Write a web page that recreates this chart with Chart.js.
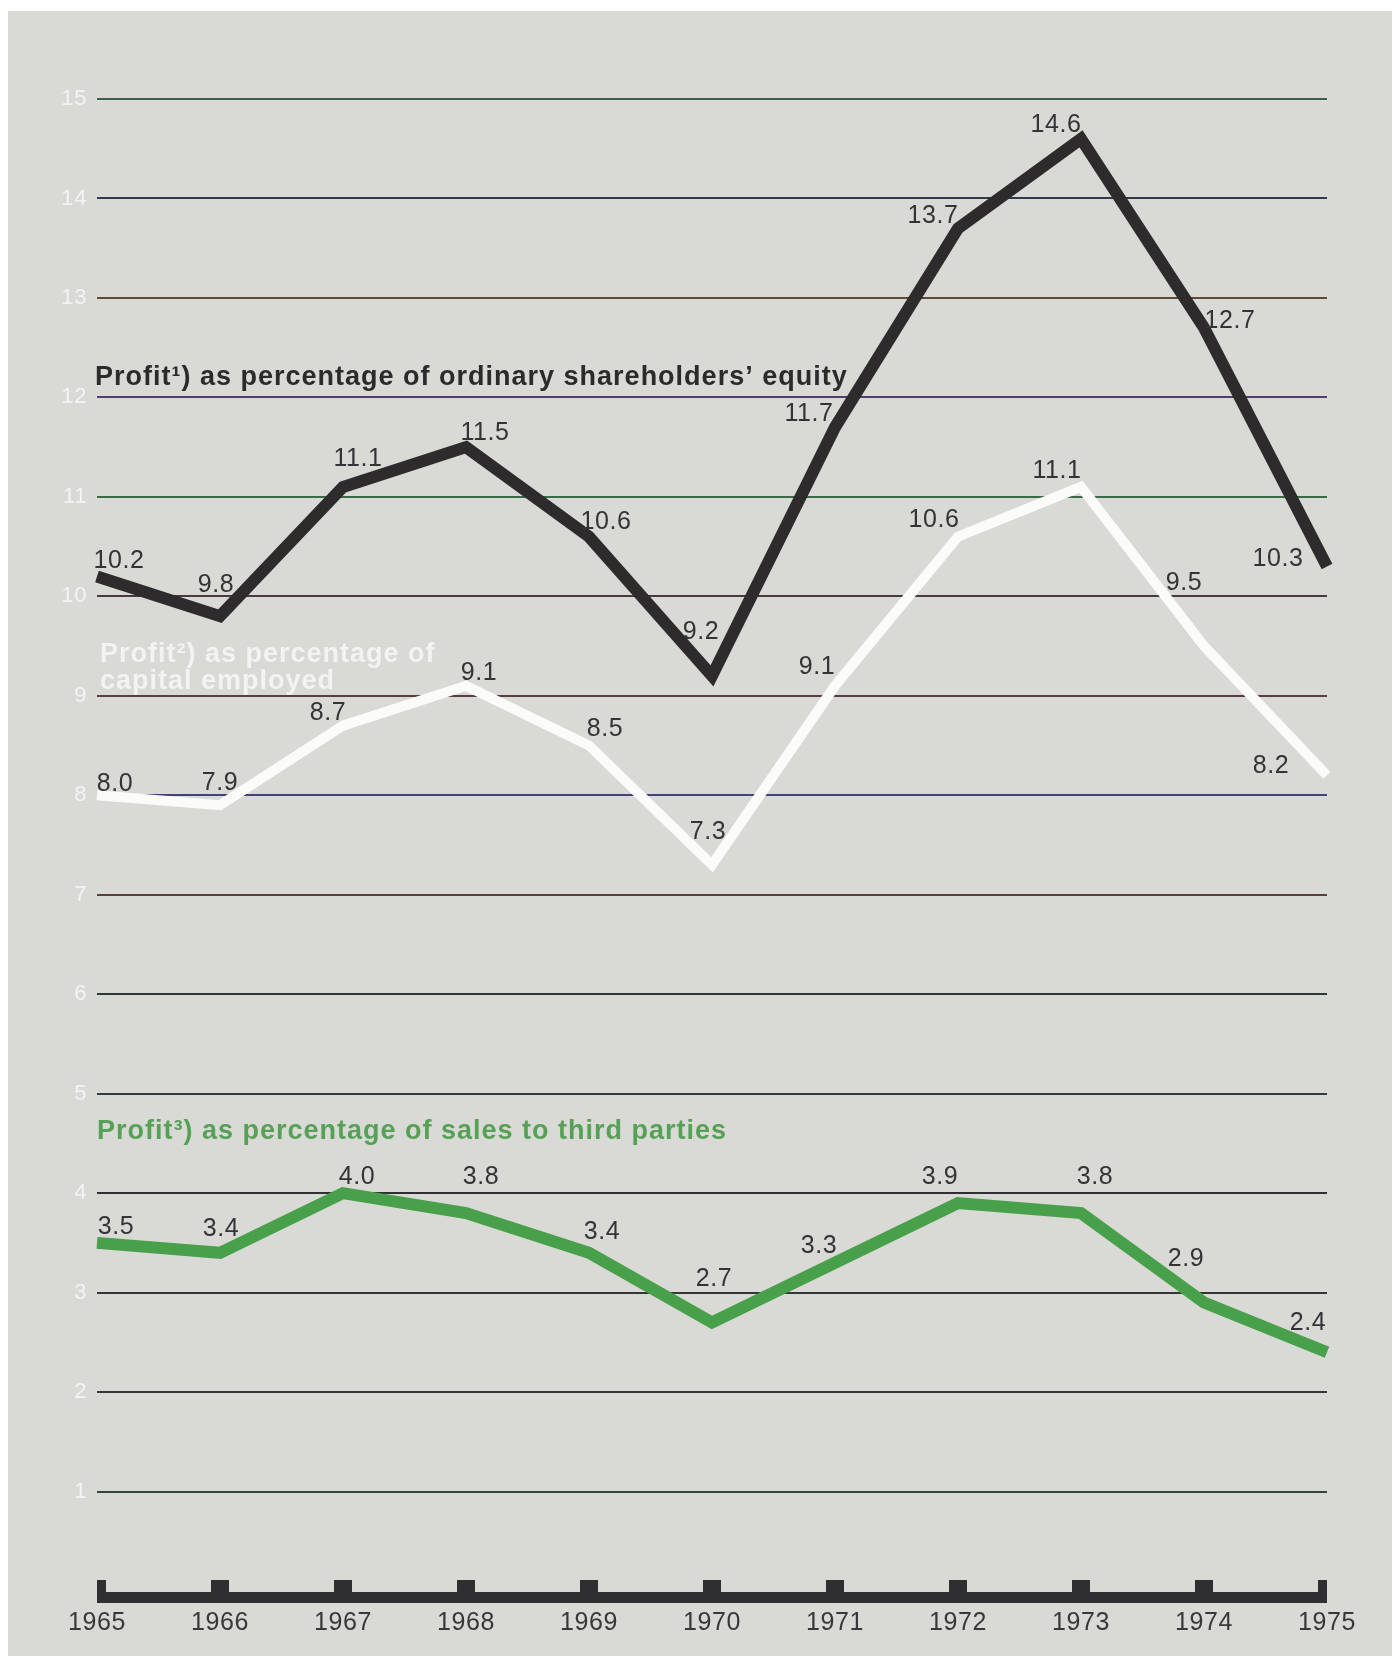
<!DOCTYPE html>
<html>
<head>
<meta charset="utf-8">
<script src="https://cdn.jsdelivr.net/npm/chart.js@4.4.0/dist/chart.umd.min.js"></script>
<style>
  html, body { margin: 0; padding: 0; background: #ffffff; }
  canvas { display: block; }
</style>
</head>
<body>
<canvas id="c" width="1392" height="1656"></canvas>
<script>
// ---------------- data ----------------
const years = ['1965', '1966', '1967', '1968', '1969', '1970', '1971', '1972', '1973', '1974', '1975'];
const equityProfit  = [10.2, 9.8, 11.1, 11.5, 10.6, 9.2, 11.7, 13.7, 14.6, 12.7, 10.3];
const capitalProfit = [8.0, 7.9, 8.7, 9.1, 8.5, 7.3, 9.1, 10.6, 11.1, 9.5, 8.2];
const salesProfit   = [3.5, 3.4, 4.0, 3.8, 3.4, 2.7, 3.3, 3.9, 3.8, 2.9, 2.4];
const yTickValues   = [0, 1, 2, 3, 4, 5, 6, 7, 8, 9, 10, 11, 12, 13, 14, 15];
const equityTitle   = ['Profit\u00B9) as percentage of ordinary shareholders\u2019 equity'];
const capitalTitle  = ['Profit\u00B2) as percentage of', 'capital employed'];
const salesTitle    = ['Profit\u00B3) as percentage of sales to third parties'];

// ---------------- styles ----------------
const BG = '#d9dad5';
const gridColors = {
  0: 'rgba(0,0,0,0)', 1: '#34463a', 2: '#333536', 3: '#333536', 4: '#2f2f31',
  5: '#313a40', 6: '#303636', 7: '#5a3d3d', 8: '#44407a', 9: '#5a3e3e',
  10: '#4a3844', 11: '#3c6a46', 12: '#4e3f6c', 13: '#5a4a36', 14: '#303c4e', 15: '#3e5e48'
};
// label placement relative to each point (pixels)
const equityLabelOff  = [[22,-15],[-4,-31],[15,-28],[19,-14],[17,-15],[-11,-44],[-26,-13],[-25,-12],[-25,-14],[26,-7],[-49,-7]];
const capitalLabelOff = [[18,-11],[0,-22],[-15,-13],[13,-13],[16,-16],[-4,-33],[-18,-19],[-24,-17],[-24,-16],[-20,-63],[-56,-9]];
const salesLabelOff   = [[19,-16],[1,-24],[14,-16],[15,-36],[13,-21],[2,-43],[-16,-17],[-18,-26],[14,-36],[-18,-43],[-19,-29]];

const FONT = '"Liberation Sans", Arial, Helvetica, sans-serif';

const bgPlugin = {
  id: 'bgPlugin',
  beforeDraw(chart) {
    const ctx = chart.ctx;
    ctx.save();
    ctx.fillStyle = BG;
    ctx.fillRect(8, 11, chart.width - 8, chart.height - 11);
    ctx.restore();
    ctx.letterSpacing = '0.6px';
  }
};

const axisBarPlugin = {
  id: 'axisBarPlugin',
  beforeDatasetsDraw(chart) {
    const { ctx, chartArea: a, scales: { x } } = chart;
    ctx.save();
    ctx.fillStyle = '#2f2e31';
    ctx.fillRect(a.left, a.bottom + 1, a.right - a.left, 11);
    x.ticks.forEach((t, i) => {
      const px = x.getPixelForTick(i);
      const l = Math.max(a.left, px - 9);
      const r = Math.min(a.right, px + 9);
      ctx.fillRect(l, a.bottom - 11, r - l, 13);
    });
    ctx.restore();
  }
};

const labelPlugin = {
  id: 'labelPlugin',
  afterDatasetsDraw(chart) {
    const { ctx, chartArea: a, scales: { y } } = chart;
    ctx.save();
    ctx.letterSpacing = '0.6px';
    ctx.font = '25px ' + FONT;
    ctx.fillStyle = '#343335';
    ctx.textAlign = 'center';
    ctx.textBaseline = 'middle';
    chart.data.datasets.forEach((ds, di) => {
      const meta = chart.getDatasetMeta(di);
      meta.data.forEach((pt, i) => {
        const off = ds.labelOffsets[i];
        ctx.fillText(ds.data[i].toFixed(1), pt.x + off[0], pt.y + off[1]);
      });
    });
    // series titles
    ctx.textAlign = 'left';
    ctx.textBaseline = 'alphabetic';
    ctx.letterSpacing = '1px';
    ctx.font = 'bold 27px ' + FONT;
    ctx.fillStyle = '#2c2b2c';
    ctx.fillText(equityTitle[0], a.left - 2, y.getPixelForValue(12) - 12);
    ctx.fillStyle = 'rgba(255,255,255,0.68)';
    ctx.fillText(capitalTitle[0], a.left + 3, y.getPixelForValue(9) - 34);
    ctx.fillText(capitalTitle[1], a.left + 3, y.getPixelForValue(9) - 7);
    ctx.fillStyle = '#57a057';
    ctx.fillText(salesTitle[0], a.left, y.getPixelForValue(5) + 45);
    ctx.restore();
  }
};

const lineStyle = {
  fill: false, tension: 0, pointRadius: 0, pointHoverRadius: 0,
  borderJoinStyle: 'miter', borderCapStyle: 'butt'
};

new Chart(document.getElementById('c'), {
  type: 'line',
  data: {
    labels: years,
    datasets: [
      Object.assign({ label: equityTitle[0], data: equityProfit, borderColor: '#2d2b2c', borderWidth: 12, labelOffsets: equityLabelOff }, lineStyle),
      Object.assign({ label: capitalTitle.join(' '), data: capitalProfit, borderColor: '#fbfbf9', borderWidth: 10, labelOffsets: capitalLabelOff }, lineStyle),
      Object.assign({ label: salesTitle[0], data: salesProfit, borderColor: '#48a04b', borderWidth: 12, labelOffsets: salesLabelOff }, lineStyle)
    ]
  },
  options: {
    responsive: false,
    animation: false,
    devicePixelRatio: 1,
    layout: { padding: { top: 99, right: 65, left: 0, bottom: 0 } },
    plugins: { legend: { display: false }, tooltip: { enabled: false } },
    scales: {
      x: {
        type: 'category',
        offset: false,
        grid: { display: false },
        border: { display: false },
        ticks: { color: '#38373a', font: { family: FONT, size: 25 }, padding: 9, maxRotation: 0, autoSkip: false },
        afterFit(s) { s.height = 65; }
      },
      y: {
        min: 0, max: 15,
        afterBuildTicks(s) { s.ticks = yTickValues.map(v => ({ value: v })); },
        grid: {
          drawTicks: false,
          lineWidth: 2,
          color: (c) => gridColors[c.tick ? c.tick.value : 0] || '#333'
        },
        border: { display: false },
        ticks: {
          color: 'rgba(255,255,255,0.7)',
          font: { family: FONT, size: 22 },
          padding: 10,
          callback: (v) => (v === 0 ? '' : String(v))
        },
        afterFit(s) { s.width = 97; }
      }
    }
  },
  plugins: [bgPlugin, axisBarPlugin, labelPlugin]
});
</script>
</body>
</html>
